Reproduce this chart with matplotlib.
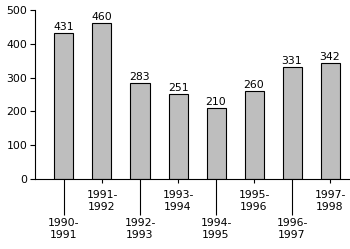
import numpy as np
import matplotlib
matplotlib.use("Agg")
import matplotlib.pyplot as plt

## data
periods = ["1990-\n1991", "1991-\n1992", "1992-\n1993", "1993-\n1994",
           "1994-\n1995", "1995-\n1996", "1996-\n1997", "1997-\n1998"]
counts = [431, 460, 283, 251, 210, 260, 331, 342]
yticks = [0, 100, 200, 300, 400, 500]

plt.rcParams['font.family'] = ['DejaVu Sans']
plt.rcParams['font.size'] = 7.8

fig = plt.figure(figsize=(3.5, 2.49), dpi=100)
ax = fig.add_axes([0.1, 0.281, 0.9, 0.679])

x = np.arange(len(counts))
ax.bar(x, counts, width=0.5, color='#bebebe', edgecolor='black', linewidth=0.8)

for xi, v in zip(x, counts):
    ax.text(xi, v + 4, str(v), ha='center', va='bottom', fontsize=7.8)

ax.set_xlim(-0.763, 7.526)
ax.set_ylim(0, 500)
ax.set_yticks(yticks)

# long ticks for every other label, short ones for the rest
ax.set_xticks(x[::2])
ax.set_xticklabels(periods[::2])
ax.set_xticks(x[1::2], minor=True)
ax.set_xticklabels(periods[1::2], minor=True)
ax.tick_params(axis='x', which='major', length=26, width=0.8, pad=2)
ax.tick_params(axis='x', which='minor', length=3, width=0.8, pad=5)
ax.tick_params(axis='y', length=3.6, width=0.8, pad=2)

for s in ['top', 'right']:
    ax.spines[s].set_visible(False)
for s in ['left', 'bottom']:
    ax.spines[s].set_linewidth(0.8)

fig.savefig('out.png', dpi=100)
